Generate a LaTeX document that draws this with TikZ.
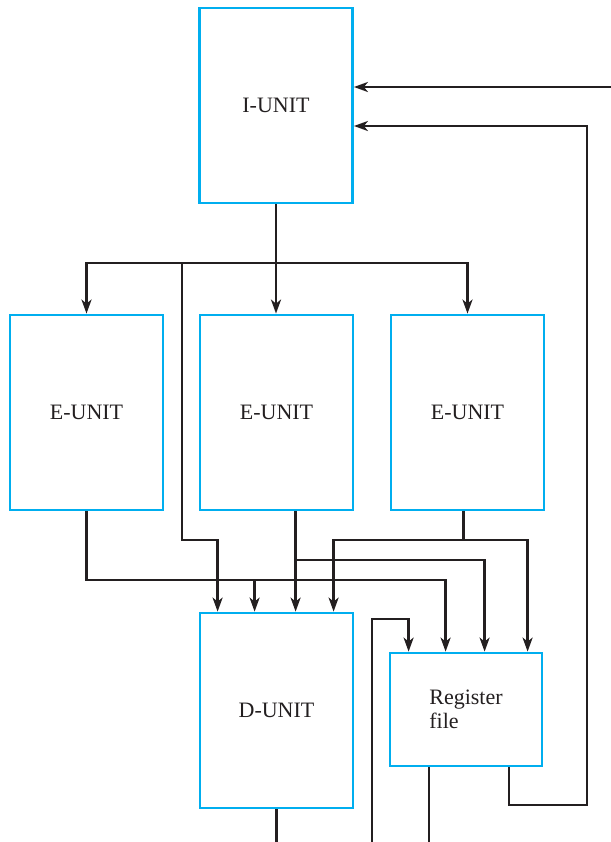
\documentclass[tikz,border=0pt]{standalone}
\usepackage{fontspec}
\setmainfont{Liberation Serif}
\usetikzlibrary{arrows.meta,positioning}
\definecolor{unitCyan}{HTML}{00AEEF}
\definecolor{wireDark}{HTML}{231F20}
\begin{document}
\begin{tikzpicture}[
  x=1bp, y=-1bp, >={Stealth[length=14bp,width=10bp,inset=4bp]},
  unit/.style={draw=unitCyan, line width=2.8bp, minimum width=153bp, minimum height=195bp, inner sep=0pt, align=center, font=\fontsize{22bp}{24bp}\selectfont, text=wireDark},
  wire/.style={draw=wireDark, line width=2.6bp}
]
\useasboundingbox (0,0) rectangle (611,842);
% units
\node[unit] (iu) at (276,105.5) {I-UNIT};
\node[unit] (e1) at (86.5,412.5) {E-UNIT};
\node[unit] (e2) at (276.5,412.5) {E-UNIT};
\node[unit] (e3) at (467.5,412.5) {E-UNIT};
\node[unit] (du) at (276.5,710.5) {D-UNIT};
\node[unit, minimum width=152bp, minimum height=113bp, align=left] (rf) at (466,709.5) {Register\\file};
% rows and ports
\coordinate (bus) at (iu.south |- 0,263);
\coordinate (r1) at (0,540);
\coordinate (r2) at (0,560);
\coordinate (r3) at (0,580);
\coordinate (r0) at (0,619);
\coordinate (bot) at (0,842);
\coordinate (d1) at ([xshift=19bp]du.north west);
\coordinate (d2) at ([xshift=56bp]du.north west);
\coordinate (d3) at ([xshift=97bp]du.north west);
\coordinate (d4) at ([xshift=135bp]du.north west);
\coordinate (f1) at ([xshift=20bp]rf.north west);
\coordinate (f2) at ([xshift=57bp]rf.north west);
\coordinate (f3) at ([xshift=96bp]rf.north west);
\coordinate (f4) at ([xshift=139bp]rf.north west);
\coordinate (tap) at (182,263);
\coordinate (e3out) at ([xshift=-4bp]e3.south);
\coordinate (in1) at (372,842);
\coordinate (rfout) at ([xshift=-37bp]rf.south);
\coordinate (rfback) at ([xshift=43bp]rf.south);
\coordinate (ret) at (587,805);
\coordinate (ext) at (611,87);
% I-unit to E-units
\draw[wire] (iu.south) -- (bus);
\draw[wire, ->] (bus) -| (e1.north);
\draw[wire, ->] (bus) -- (bus |- e2.north);
\draw[wire, ->] (bus) -| (e3.north);
\draw[wire, ->] (tap) |- (d1 |- r1) -- (d1);
% E-units to D-unit and register file
\draw[wire, ->] (e1.south) |- (f2 |- r3) -- (f2);
\draw[wire, ->] (d2 |- r3) -- (d2);
\draw[wire, ->] (d3 |- e2.south) -- (d3);
\draw[wire, ->] (d3 |- r2) -| (f3);
\draw[wire, ->] (e3out) |- (d4 |- r1) -- (d4);
\draw[wire, ->] (e3out |- r1) -| (f4);
\draw[wire, ->] (in1) |- (f1 |- r0) -- (f1);
% outputs
\draw[wire] (du.south) -- (du.south |- bot);
\draw[wire] (rfout) -- (rfout |- bot);
\draw[wire, ->] (rfback) |- (ret) |- ([yshift=-20.5bp]iu.east);
\draw[wire, ->] (ext) -- (ext -| iu.east);
\end{tikzpicture}
\end{document}
